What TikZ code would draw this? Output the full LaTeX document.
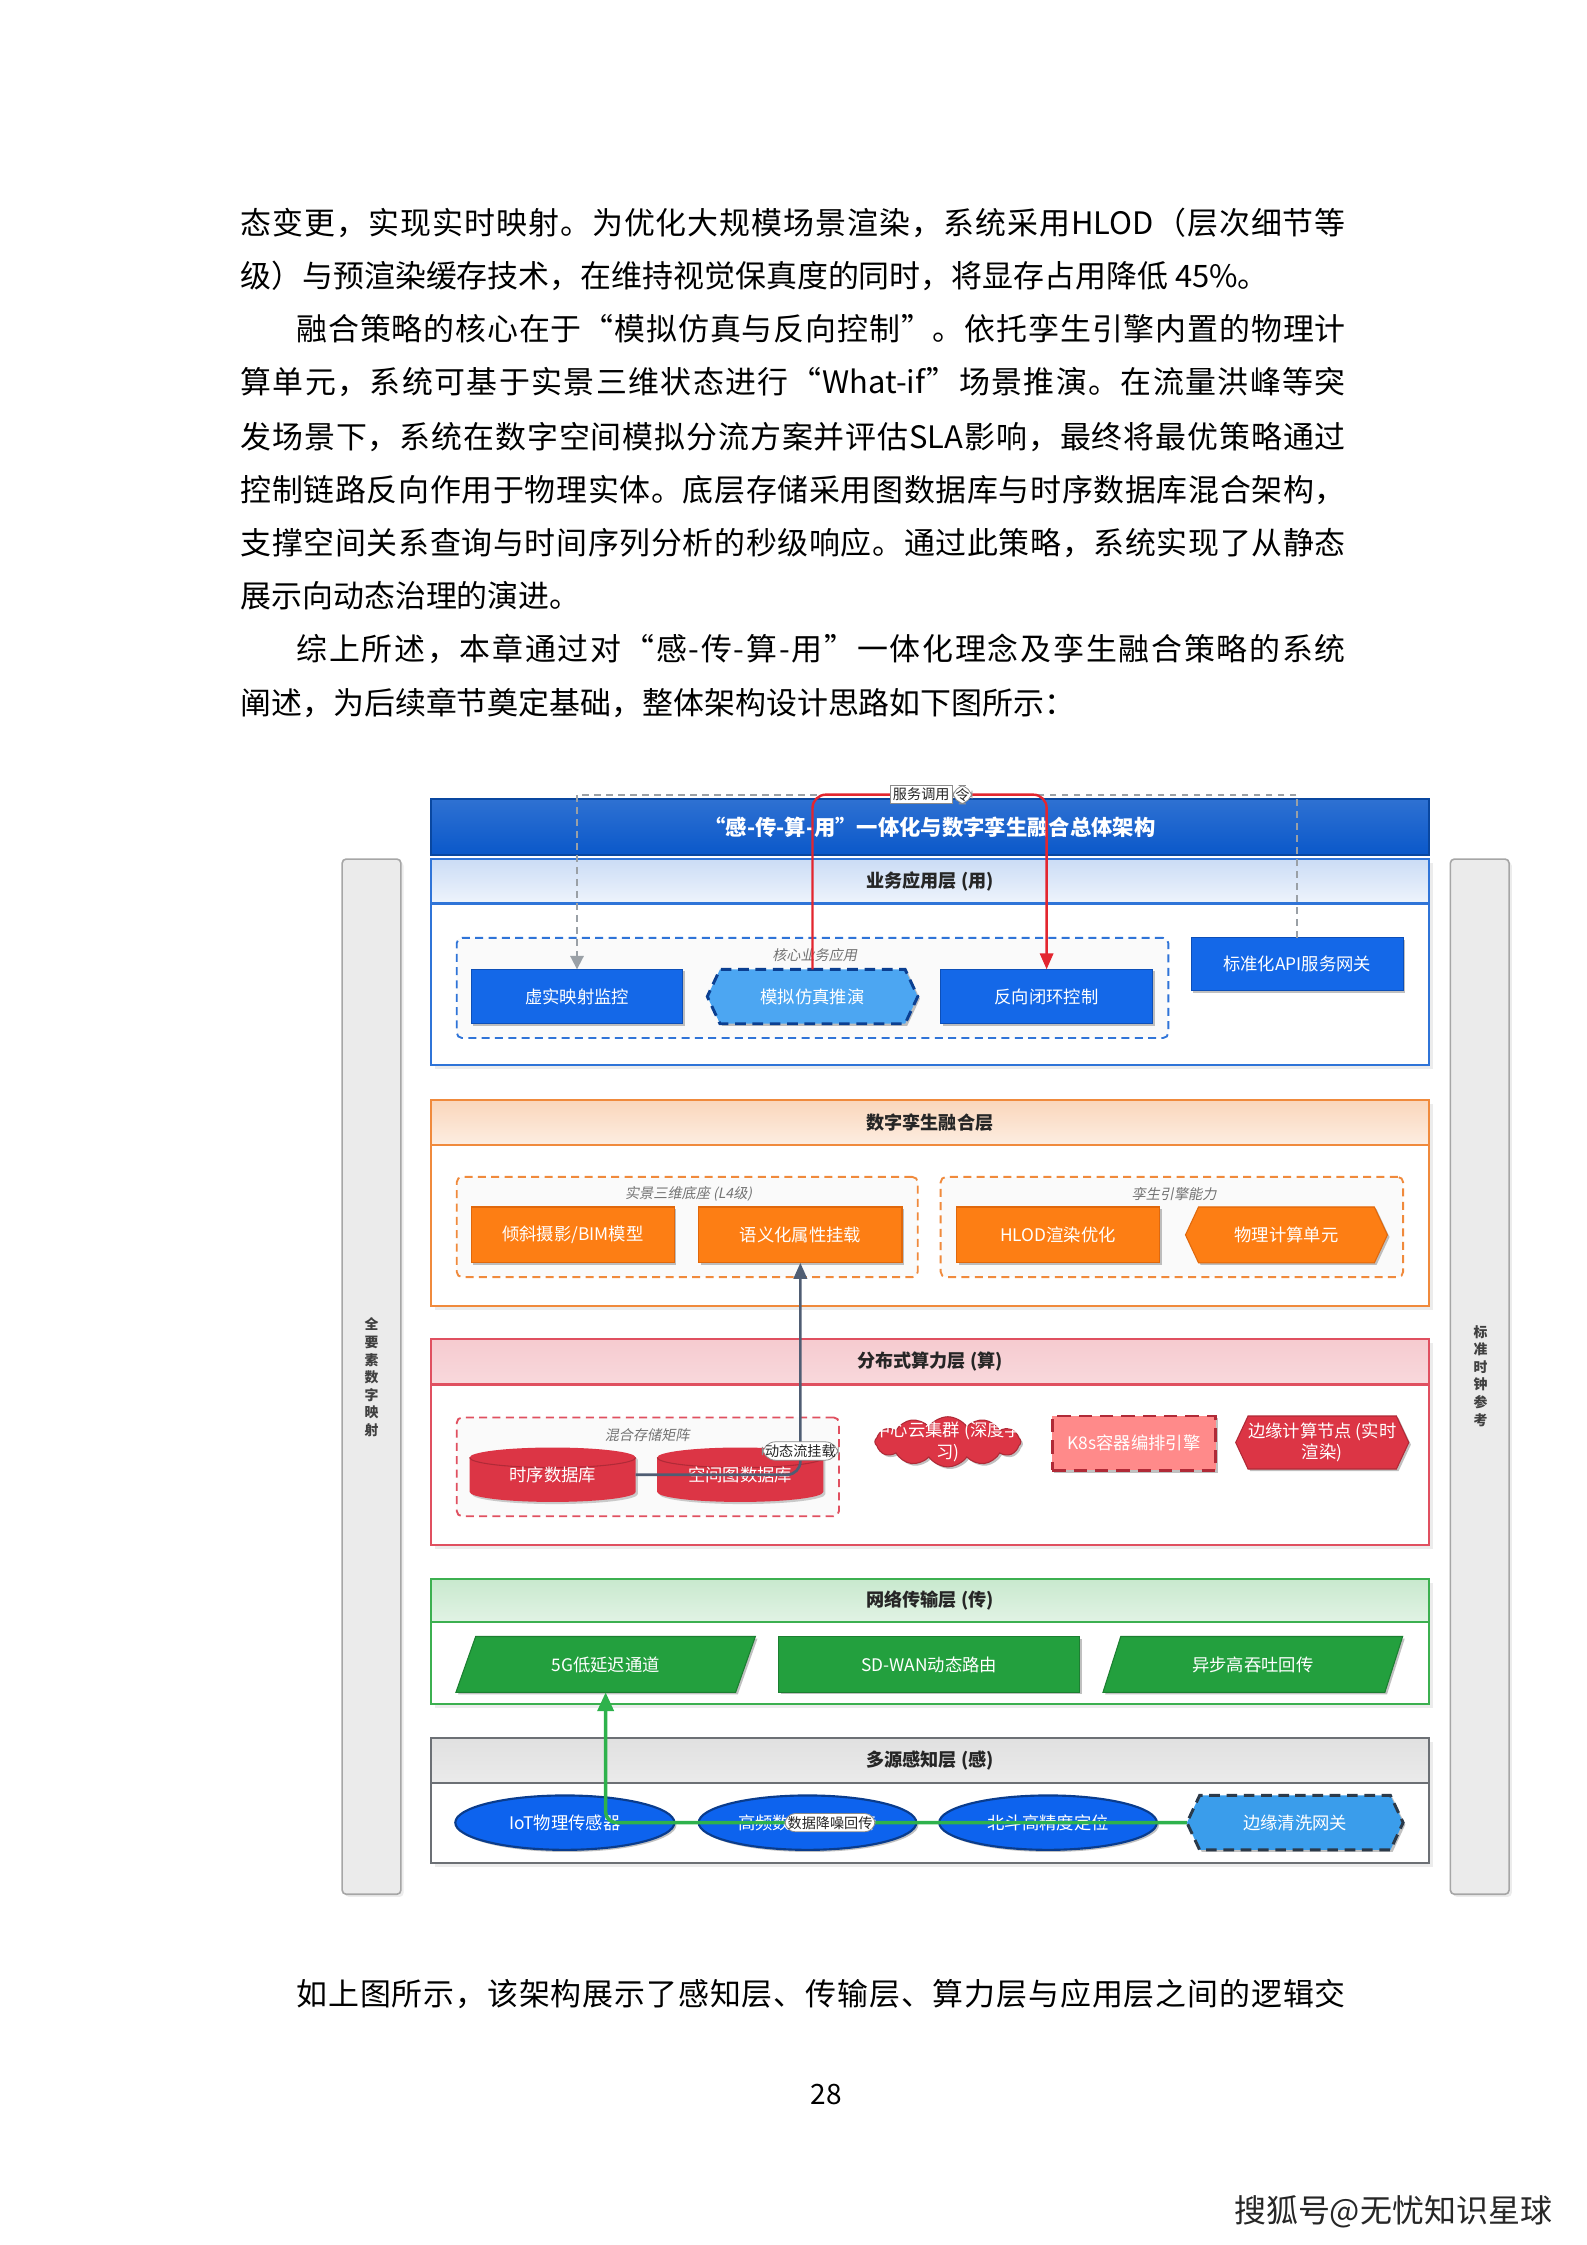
\documentclass[tikz,border=0pt]{standalone}
\usepackage{fontspec}
\setmainfont{Noto Sans CJK SC}
\newfontfamily\cjkit{Noto Sans CJK SC}[FakeSlant=0.2]
\usetikzlibrary{shapes.geometric,shapes.symbols,shadows,arrows.meta}
\newdimen\pxu \pxu=0.5371pt
\def\spreadend{\spreadend}
\def\spreadtokens#1{\def\sptmp{#1}\ifx\sptmp\spreadend\else#1\hskip 0pt plus 1fil\relax\expandafter\spreadtokens\fi}
\newcommand{\jline}[2]{\hbox to #1{\spreadtokens#2\spreadend\hskip 0pt plus -1fil\relax}}
\definecolor{cblue}{HTML}{1468E8}
\definecolor{cbluedk}{HTML}{0D4FB8}
\definecolor{chex}{HTML}{4CA6F2}
\definecolor{chexdk}{HTML}{0B3F91}
\definecolor{ctitle}{HTML}{0A58CA}
\definecolor{ctitledk}{HTML}{0947A0}
\definecolor{corange}{HTML}{FD7E14}
\definecolor{corangedk}{HTML}{E0680C}
\definecolor{cred}{HTML}{DC3545}
\definecolor{creddk}{HTML}{B02A37}
\definecolor{ck8s}{HTML}{FF8A8A}
\definecolor{cgreen}{HTML}{23A03E}
\definecolor{cgreendk}{HTML}{1C7F31}
\definecolor{cell}{HTML}{0D63EE}
\definecolor{celldk}{HTML}{0A3C8C}
\definecolor{cgw}{HTML}{3A9DEB}
\definecolor{cgwdk}{HTML}{2B3A4A}
\definecolor{lblue}{HTML}{2F74D8}
\definecolor{lorange}{HTML}{F08A3C}
\definecolor{lred}{HTML}{E05060}
\definecolor{lgreen}{HTML}{3CB050}
\definecolor{lgray}{HTML}{6C7075}
\definecolor{linegray}{HTML}{9AA0A6}
\definecolor{linered}{HTML}{E3262F}
\definecolor{lineslate}{HTML}{4F5D73}
\definecolor{linegreen}{HTML}{2EB24C}
\newcommand{\bodyfont}{\fontsize{11.6pt}{14pt}\selectfont}
\begin{document}
\begin{tikzpicture}[x=0.5371pt,y=-0.5371pt,
  every node/.style={inner sep=0pt, outer sep=0pt},
  sz/.style 2 args={minimum width=#1*0.5371pt, minimum height=#2*0.5371pt},
  bodyline/.style={anchor=base west, font=\bodyfont},
  shdw/.style={drop shadow={shadow xshift=0.8pt, shadow yshift=-0.8pt, opacity=0.35, fill=black!70}},
  nfont/.style={font=\fontsize{6.5}{8}\selectfont, text=white},
  layerbox/.style={draw=#1, line width=0.8pt, fill=white, drop shadow={opacity=0.15, shadow xshift=1.5pt, shadow yshift=-1.5pt}},
  hdr/.style={draw=#1, line width=0.8pt, font=\bfseries\fontsize{6.8}{8}\selectfont, text=black!85},
  grp/.style={draw=#1, dashed, dash pattern=on 3pt off 2pt, line width=0.7pt, rounded corners=2pt, fill=black!2},
  glabel/.style={font=\cjkit\fontsize{5.3}{6}\selectfont, text=black!55},
  bluebox/.style={rectangle, fill=cblue, draw=cbluedk, line width=0.4pt, nfont, shdw},
  hexbox/.style={signal, signal to=east and west, signal pointer angle=130, fill=chex, draw=chexdk, line width=1.1pt, dash pattern=on 4pt off 2.5pt, nfont, shdw},
  orbox/.style={rectangle, fill=corange, draw=corangedk, line width=0.4pt, nfont, shdw},
  orhex/.style={signal, signal to=east and west, signal pointer angle=130, fill=corange, draw=corangedk, line width=0.4pt, nfont, shdw},
  k8s/.style={rectangle, fill=ck8s, draw=creddk, line width=1.1pt, dash pattern=on 5pt off 3pt, nfont, shdw},
  redhex/.style={signal, signal to=east and west, signal pointer angle=130, fill=cred, draw=creddk, line width=0.4pt, nfont, shdw},
  gpar/.style={trapezium, trapezium left angle=63, trapezium right angle=117, trapezium stretches=true, fill=cgreen, draw=cgreendk, line width=0.4pt, nfont, shdw},
  gbox/.style={rectangle, fill=cgreen, draw=cgreendk, line width=0.4pt, nfont, shdw},
  ell/.style={ellipse, fill=cell, draw=celldk, line width=0.8pt, nfont, shdw},
  gwhex/.style={signal, signal to=east and west, signal pointer angle=130, fill=cgw, draw=cgwdk, line width=1.1pt, dash pattern=on 4pt off 2.5pt, nfont, shdw},
  sidebar/.style={rectangle, rounded corners=1.5pt, fill=black!8, draw=black!35, line width=0.6pt, drop shadow={opacity=0.15, shadow xshift=1pt, shadow yshift=-1pt}},
  sidetext/.style={align=center, font=\bfseries\fontsize{5.2}{6.6}\selectfont, text=black!75},
  elabel/.style={fill=white, draw=black!45, line width=0.3pt, inner sep=1pt, font=\fontsize{5.3}{6}\selectfont, text=black!85},
  tip/.style={-{Triangle[width=5pt,length=6pt]}}
]
\useasboundingbox (0,0) rectangle (1108,1568);
\fill[white] (0,0) rectangle (1108,1568);

% ---------------- body text ----------------
\node[bodyline] (p1) at (168,164) {\jline{772\pxu}{态变更，实现实时映射。为优化大规模场景渲染，系统采用{HLOD}（层次细节等}};
\node[bodyline] (p2) at (168,201) {级）与预渲染缓存技术，在维持视觉保真度的同时，将显存占用降低 45\%。};
\node[bodyline] (p3) at (207,238) {\jline{733\pxu}{融合策略的核心在于“模拟仿真与反向控制”。依托孪生引擎内置的物理计}};
\node[bodyline] (p4) at (168,275) {\jline{772\pxu}{算单元，系统可基于实景三维状态进行“{What-if}”场景推演。在流量洪峰等突}};
\node[bodyline] (p5) at (168,313) {\jline{772\pxu}{发场景下，系统在数字空间模拟分流方案并评估{SLA}影响，最终将最优策略通过}};
\node[bodyline] (p6) at (168,350) {\jline{772\pxu}{控制链路反向作用于物理实体。底层存储采用图数据库与时序数据库混合架构，}};
\node[bodyline] (p7) at (168,387) {\jline{772\pxu}{支撑空间关系查询与时间序列分析的秒级响应。通过此策略，系统实现了从静态}};
\node[bodyline] (p8) at (168,424) {展示向动态治理的演进。};
\node[bodyline] (p9) at (207,461) {\jline{733\pxu}{综上所述，本章通过对“感-传-算-用”一体化理念及孪生融合策略的系统}};
\node[bodyline] (p10) at (168,499) {阐述，为后续章节奠定基础，整体架构设计思路如下图所示：};
\node[bodyline] (p11) at (207,1401) {\jline{733\pxu}{如上图所示，该架构展示了感知层、传输层、算力层与应用层之间的逻辑交}};
\node[font=\fontsize{10.5}{12}\selectfont] (pg) at (577,1463) {28};
\node[font=\fontsize{12}{14}\selectfont, text=black!85] (wm) at (973,1545) {搜狐号@无忧知识星球};

% ---------------- side bars ----------------
\node[sidebar, sz={41}{723}] (lbar) at (259.5,961.5) {};
\node[sidetext] (lbart) at (259.5,962) {全\\要\\素\\数\\字\\映\\射};
\node[sidebar, sz={41}{723}] (rbar) at (1033.5,961.5) {};
\node[sidetext] (rbart) at (1034,961) {标\\准\\时\\钟\\参\\考};

% ---------------- title ----------------
\node[sz={697}{39}, top color=ctitle!85!white, bottom color=ctitle, draw=ctitledk, line width=0.8pt, text=white, font=\bfseries\fontsize{8}{9}\selectfont] (title) at (649.5,577.5) {“感-传-算-用”一体化与数字孪生融合总体架构};

% ---------------- layer 1 ----------------
\node[layerbox=lblue, sz={697}{144}] (L1) at (649.5,672) {};
\node[hdr=lblue, sz={697}{31}, top color=lblue!25, bottom color=lblue!8] (H1) at (649.5,615.5) {业务应用层 (用)};
\node[grp=lblue, sz={497}{70}] (G1) at (567.5,690) {};
\node[glabel] (G1l) at (569,667) {核心业务应用};
\node[bluebox, sz={148}{38}] (vr) at (403,696) {虚实映射监控};
\node[hexbox, sz={147}{38}] (sim) at (567.5,696) {模拟仿真推演};
\node[bluebox, sz={148}{38}] (fb) at (731,696) {反向闭环控制};
\node[bluebox, sz={148}{37}] (api) at (906,673.5) {标准化API服务网关};

% ---------------- layer 2 ----------------
\node[layerbox=lorange, sz={697}{144}] (L2) at (649.5,840) {};
\node[hdr=lorange, sz={697}{32}, top color=lorange!35, bottom color=lorange!15] (H2) at (649.5,784) {数字孪生融合层};
\node[grp=lorange, sz={322}{70}] (G2) at (480,857) {};
\node[glabel] (G2l) at (481,834) {实景三维底座 (L4级)};
\node[grp=lorange, sz={323}{70}] (G3) at (818.5,857) {};
\node[glabel] (G3l) at (820,834) {孪生引擎能力};
\node[orbox, sz={142}{39}] (tilt) at (400,862.5) {倾斜摄影/BIM模型};
\node[orbox, sz={142}{39}] (sem) at (559,862.5) {语义化属性挂载};
\node[orbox, sz={142}{39}] (hlod) at (739,862.5) {HLOD渲染优化};
\node[orhex, sz={141}{39}] (phys) at (898.5,862.5) {物理计算单元};

% ---------------- layer 3 ----------------
\node[layerbox=lred, sz={697}{144}] (L3) at (649.5,1007) {};
\node[hdr=lred, sz={697}{32}, top color=lred!30, bottom color=lred!22] (H3) at (649.5,951) {分布式算力层 (算)};
\node[grp=lred, sz={267}{69}] (G4) at (452.5,1024.5) {};
\node[glabel] (G4l) at (452,1002) {混合存储矩阵};
\foreach \L/\R in {328/444, 459/575}{
  \fill[black!40, opacity=0.5, xshift=0.8pt, yshift=-0.8pt] (\L,1018) -- (\L,1042) arc[start angle=180, end angle=360, x radius=58*0.5371pt, y radius=7*0.5371pt] -- (\R,1018) arc[start angle=0, end angle=180, x radius=58*0.5371pt, y radius=7*0.5371pt] -- cycle;
  \fill[cred] (\L,1018) -- (\L,1042) arc[start angle=180, end angle=360, x radius=58*0.5371pt, y radius=7*0.5371pt] -- (\R,1018) arc[start angle=0, end angle=180, x radius=58*0.5371pt, y radius=7*0.5371pt] -- cycle;
  \draw[creddk, line width=0.4pt] (\L,1018) arc[start angle=180, end angle=360, x radius=58*0.5371pt, y radius=7*0.5371pt];
}
\node[sz={116}{38}, nfont] (tsdb) at (386,1030) {\raisebox{-2pt}{时序数据库}};
\node[sz={116}{38}, nfont] (gdb) at (517,1030) {\raisebox{-2pt}{空间图数据库}};
\node[cloud, cloud puffs=12, cloud puff arc=110, aspect=3, fill=cred, draw=creddk, line width=0.4pt, sz={102}{35}, shdw] (cloudn) at (662,1007) {};
\begin{scope}
\clip (613,985) rectangle (712,1030);
\node[nfont, align=center] (cloudt) at (662,1007) {中心云集群 (深度学\\习)};
\end{scope}
\node[k8s, sz={114}{38}] (k8sn) at (792,1008) {K8s容器编排引擎};
\node[redhex, sz={115}{37}, align=center] (edgec) at (923.5,1007.5) {边缘计算节点 (实时\\渲染)};

% ---------------- layer 4 ----------------
\node[layerbox=lgreen, sz={697}{87}] (L4) at (649.5,1146.5) {};
\node[hdr=lgreen, sz={697}{30}, top color=lgreen!28, bottom color=lgreen!15] (H4) at (649.5,1118) {网络传输层 (传)};
\node[gpar, sz={210}{39}] (g5) at (423,1162.5) {5G低延迟通道};
\node[gbox, sz={210}{39}] (sdwan) at (649,1162.5) {SD-WAN动态路由};
\node[gpar, sz={210}{39}] (async) at (875,1162.5) {异步高吞吐回传};

% ---------------- layer 5 ----------------
\node[layerbox=lgray, sz={697}{87}] (L5) at (649.5,1257.5) {};
\node[hdr=lgray, sz={697}{31}, top color=black!12, bottom color=black!8] (H5) at (649.5,1229.5) {多源感知层 (感)};
\node[ell, sz={153}{38}] (iot) at (394.5,1273) {IoT物理传感器};
\node[ell, sz={152}{38}] (hf) at (564,1273) {高频数据降噪回传};
\node[ell, sz={152}{38}] (bd) at (732,1273) {北斗高精度定位};
\node[gwhex, sz={151}{38}] (gw) at (904.5,1273) {边缘清洗网关};

% ---------------- connectors ----------------
\draw[linegray, line width=0.7pt, dash pattern=on 2.5pt off 2pt, -{Triangle[width=5pt,length=5pt]}] (api.north) -- ++(0,-100) -| (vr.north);
\draw[linered, line width=0.9pt, rounded corners=5pt, tip] (sim.north) -- ++(0,-122) -| node[pos=0.32, elabel] (lbl2) {令} (fb.north);
\path (api.north) -- ++(0,-100) -| node[pos=0.261, elabel] (lbl1) {服务调用} (vr.north);
\draw[lineslate, line width=1pt, rounded corners=5pt, tip] (tsdb.east) -| node[pos=0.556, elabel] (lbl3) {动态流挂载} (sem.south);
\draw[linegreen, line width=1.3pt, rounded corners=4pt, -{Triangle[width=6pt,length=7pt]}] (gw.west) -| node[pos=0.307, elabel] (lbl4) {数据降噪回传} (g5.south);
\end{tikzpicture}
\end{document}
